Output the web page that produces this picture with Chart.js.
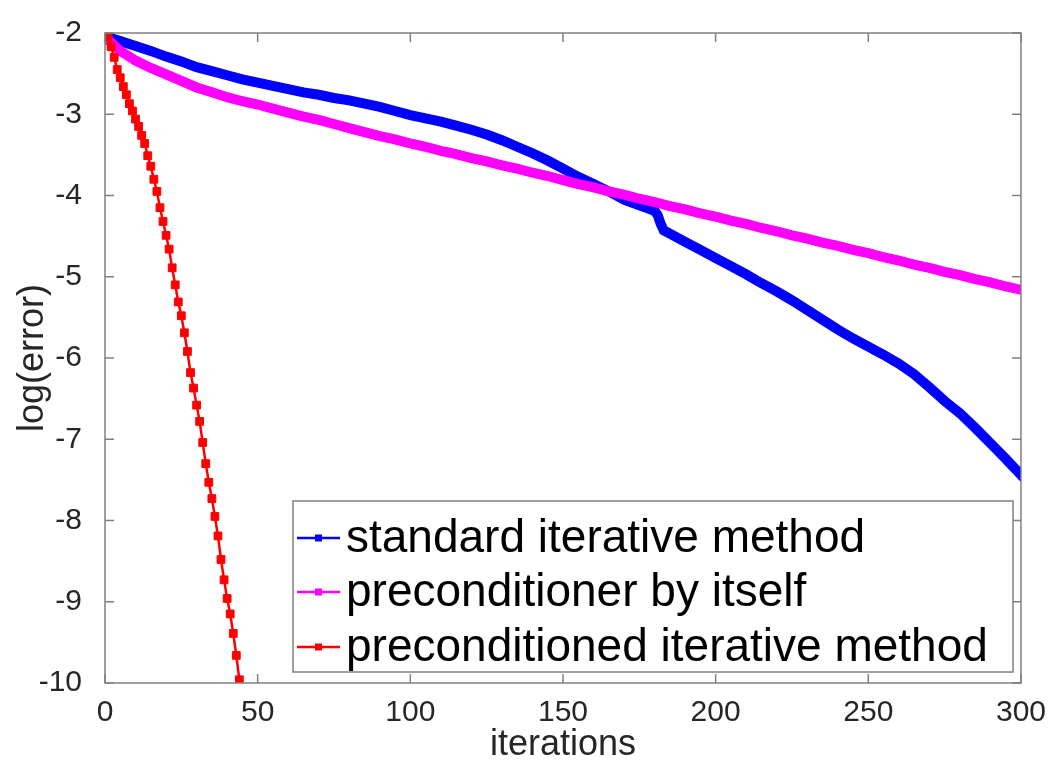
<!DOCTYPE html>
<html>
<head>
<meta charset="utf-8">
<script src="https://cdn.jsdelivr.net/npm/chart.js@4/dist/chart.umd.min.js"></script>
<style>
  html, body { margin: 0; padding: 0; background: #fff; }
  #wrap { width: 1050px; height: 763px; }
</style>
</head>
<body>
<div id="wrap"><canvas id="myChart" width="1050" height="763"></canvas></div>
<script>
'use strict';

//// data
const seriesNames = ['standard iterative method', 'preconditioner by itself', 'preconditioned iterative method'];
const seriesColors = ['#0000ff', '#ff00ff', '#ff0000'];

const blueIter = [0, 5, 10, 15, 20, 25, 30, 35, 40, 45, 50, 55, 60, 65, 70, 75, 80, 85, 90, 95,
    100, 105, 110, 115, 120, 125, 130, 135, 140, 145, 150, 155, 160, 165, 170, 175, 178, 180, 181, 182, 183,
    185, 190, 195, 200, 205, 210, 215, 220, 225, 230, 235, 240, 245, 250, 255, 260, 265, 270, 275,
    280, 285, 290, 295, 300];
const blueErr = [-2.04, -2.10, -2.16, -2.22, -2.29, -2.35, -2.42, -2.47, -2.52, -2.57, -2.61, -2.65, -2.69, -2.73, -2.76, -2.80, -2.83, -2.87, -2.91, -2.96,
    -3.01, -3.05, -3.09, -3.14, -3.19, -3.25, -3.32, -3.40, -3.48, -3.57, -3.67, -3.77, -3.86, -3.95, -4.05, -4.12, -4.16, -4.19, -4.24, -4.35, -4.43,
    -4.47, -4.57, -4.67, -4.77, -4.87, -4.97, -5.08, -5.18, -5.29, -5.41, -5.53, -5.65, -5.76, -5.86, -5.96, -6.07, -6.20, -6.36, -6.53,
    -6.68, -6.86, -7.05, -7.24, -7.44];

const magentaIter = [0, 5, 10, 15, 20, 25, 30, 35, 40, 45, 50, 55, 60, 65, 70, 75, 80, 85, 90, 95,
    100, 105, 110, 115, 120, 125, 130, 135, 140, 145, 150, 155, 160, 165, 170, 175, 180, 185, 190, 195,
    200, 205, 210, 215, 220, 225, 230, 235, 240, 245, 250, 255, 260, 265, 270, 275, 280, 285, 290, 295, 300];
const magentaErr = [-2.05, -2.22, -2.34, -2.43, -2.51, -2.59, -2.67, -2.73, -2.79, -2.84, -2.88, -2.93, -2.98, -3.03, -3.07, -3.12, -3.17, -3.22, -3.27, -3.31,
    -3.36, -3.40, -3.45, -3.49, -3.54, -3.58, -3.63, -3.67, -3.72, -3.76, -3.81, -3.86, -3.90, -3.95, -3.99, -4.04, -4.08, -4.13, -4.17, -4.22,
    -4.26, -4.31, -4.35, -4.40, -4.44, -4.49, -4.53, -4.58, -4.62, -4.67, -4.71, -4.76, -4.80, -4.85, -4.89, -4.94, -4.98, -5.03, -5.07, -5.12, -5.16];

const redIter = [0, 1, 2, 3, 4, 5, 6, 7, 8, 9, 10, 11, 12, 13, 14, 15, 16, 17, 18, 19, 20, 21,
    22, 23, 24, 25, 26, 27, 28, 29, 30, 31, 32, 33, 34, 35, 36, 37, 38, 39, 40, 41, 42, 43, 44];
const redErr = [-2.04, -2.05, -2.17, -2.30, -2.45, -2.55, -2.66, -2.76, -2.87, -2.96, -3.06, -3.15, -3.26, -3.36, -3.51, -3.64, -3.80, -3.95, -4.15, -4.32, -4.49, -4.66,
    -4.89, -5.10, -5.31, -5.48, -5.69, -5.92, -6.18, -6.37, -6.58, -6.78, -7.04, -7.30, -7.53, -7.73, -7.95, -8.19, -8.48, -8.73, -8.96, -9.15, -9.39, -9.66, -9.96];

const xTickLabels = [0, 50, 100, 150, 200, 250, 300];
const yTickLabels = [-2, -3, -4, -5, -6, -7, -8, -9, -10];

function toPoints(xs, ys) {
    return xs.map((x, i) => ({ x: x, y: ys[i] }));
}

const FONT = 'Helvetica, "Liberation Sans", Arial, sans-serif';
const TEXT = '#262626';
const AXIS = '#808080';

//// box + inward ticks on all four sides (MATLAB look)
const boxPlugin = {
    id: 'box',
    afterDraw(chart) {
        const ctx = chart.ctx;
        const a = chart.chartArea;
        const xs = chart.scales.x, ys = chart.scales.y;
        ctx.save();
        ctx.strokeStyle = AXIS;
        ctx.lineWidth = 1.5;
        ctx.strokeRect(a.left, a.top, a.right - a.left, a.bottom - a.top);
        ctx.beginPath();
        xTickLabels.forEach(v => {
            const px = xs.getPixelForValue(v);
            ctx.moveTo(px, a.bottom); ctx.lineTo(px, a.bottom - 9);
            ctx.moveTo(px, a.top); ctx.lineTo(px, a.top + 9);
        });
        yTickLabels.forEach(v => {
            const py = ys.getPixelForValue(v);
            ctx.moveTo(a.left, py); ctx.lineTo(a.left + 9, py);
            ctx.moveTo(a.right, py); ctx.lineTo(a.right - 9, py);
        });
        ctx.stroke();
        ctx.restore();
    }
};

//// legend box inside the plot, lower right
const legendPlugin = {
    id: 'boxLegend',
    afterDraw(chart) {
        const ctx = chart.ctx;
        const bx = 293, by = 501, bw = 720, bh = 171;
        ctx.save();
        ctx.fillStyle = '#fff';
        ctx.fillRect(bx, by, bw, bh);
        ctx.strokeStyle = AXIS;
        ctx.lineWidth = 1.5;
        ctx.strokeRect(bx, by, bw, bh);
        const rows = [538, 592, 647];
        ctx.font = '46px ' + FONT;
        ctx.textBaseline = 'middle';
        seriesNames.forEach((name, i) => {
            const y = rows[i];
            ctx.strokeStyle = seriesColors[i];
            ctx.lineWidth = 2.5;
            ctx.beginPath();
            ctx.moveTo(297, y); ctx.lineTo(340, y);
            ctx.stroke();
            ctx.fillStyle = seriesColors[i];
            ctx.fillRect(315, y - 3.5, 7, 7);
            ctx.fillStyle = '#000';
            ctx.fillText(name, 346, y + 1);
        });
        ctx.restore();
    }
};

const ctx = document.getElementById('myChart').getContext('2d');

const chart = new Chart(ctx, {
    type: 'line',
    data: {
        datasets: [{
            label: seriesNames[0],
            data: toPoints(blueIter, blueErr),
            borderColor: seriesColors[0],
            backgroundColor: seriesColors[0],
            borderWidth: 10,
            borderCapStyle: 'square',
            pointRadius: 0,
            order: 3
        }, {
            label: seriesNames[1],
            data: toPoints(magentaIter, magentaErr),
            borderColor: seriesColors[1],
            backgroundColor: seriesColors[1],
            borderWidth: 10,
            borderCapStyle: 'square',
            pointRadius: 0,
            order: 2
        }, {
            label: seriesNames[2],
            data: toPoints(redIter, redErr),
            borderColor: seriesColors[2],
            backgroundColor: seriesColors[2],
            borderWidth: 2.5,
            pointStyle: 'rect',
            pointRadius: 5.5,
            pointBorderWidth: 1,
            order: 1
        }]
    },
    options: {
        responsive: false,
        animation: false,
        devicePixelRatio: 1,
        layout: { padding: { left: 0, top: 20, right: 25, bottom: 0 } },
        plugins: {
            legend: { display: false },
            tooltip: { enabled: false }
        },
        scales: {
            x: {
                type: 'linear',
                min: 0,
                max: 300,
                grid: { display: false },
                border: { display: false },
                ticks: {
                    stepSize: 50,
                    color: TEXT,
                    padding: 4,
                    font: { family: FONT, size: 30 },
                    maxRotation: 0
                },
                title: {
                    display: true,
                    text: 'iterations',
                    color: TEXT,
                    font: { family: FONT, size: 36, lineHeight: 1 },
                    padding: { top: 0, bottom: 0 }
                },
                afterFit(scale) { scale.height = 80; }
            },
            y: {
                type: 'linear',
                min: -10,
                max: -2,
                grid: { display: false },
                border: { display: false },
                ticks: {
                    stepSize: 1,
                    color: TEXT,
                    padding: 15,
                    font: { family: FONT, size: 30 }
                },
                title: {
                    display: true,
                    text: 'log(error)',
                    color: TEXT,
                    font: { family: FONT, size: 36, lineHeight: 1 },
                    padding: { top: 15, bottom: 0 }
                },
                afterFit(scale) { scale.width = 105; }
            }
        }
    },
    plugins: [boxPlugin, legendPlugin]
});
</script>
</body>
</html>
